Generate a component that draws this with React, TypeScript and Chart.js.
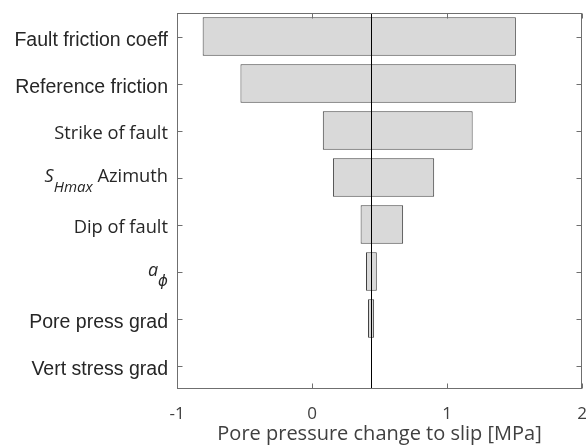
import React, { useEffect, useRef } from "react";
import { Chart, registerables } from "chart.js";

Chart.register(...registerables);

// ---- data ----
const CATEGORIES = [
  "Fault friction coeff",
  "Reference friction",
  "Strike of fault",
  "SHmax Azimuth",
  "Dip of fault",
  "aφ",
  "Pore press grad",
  "Vert stress grad",
];
const LOW_VALUES = [-0.81, -0.53, 0.08, 0.155, 0.36, 0.4, 0.415, 0.437];
const HIGH_VALUES = [1.51, 1.51, 1.19, 0.905, 0.675, 0.48, 0.46, 0.437];
const BASE_VALUE = 0.437;
const X_TICKS = [-1, 0, 1, 2];
const X_TITLE = "Pore pressure change to slip [MPa]";

// ---- label rendering styles (by category) ----
type Seg = { text: string; font: string; dy: number };
const ARIAL = "19.5px 'Liberation Sans', Arial, sans-serif";
const OPEN = "18.3px 'Open Sans', sans-serif";
const LABEL_SEGMENTS: Record<string, Seg[]> = {
  "Fault friction coeff": [{ text: "Fault friction coeff", font: ARIAL, dy: 9 }],
  "Reference friction": [{ text: "Reference friction", font: ARIAL, dy: 9 }],
  "Strike of fault": [{ text: "Strike of fault", font: OPEN, dy: 8 }],
  "SHmax Azimuth": [
    { text: "S", font: "italic 18px 'Open Sans', sans-serif", dy: 4 },
    { text: "Hmax", font: "italic 15px 'Open Sans', sans-serif", dy: 14 },
    { text: " Azimuth", font: OPEN, dy: 4 },
  ],
  "Dip of fault": [{ text: "Dip of fault", font: OPEN, dy: 8 }],
  "aφ": [
    { text: "a", font: "italic 18px 'Open Sans', sans-serif", dy: 4 },
    { text: "ϕ", font: "italic 15px 'DejaVu Sans', sans-serif", dy: 14 },
  ],
  "Pore press grad": [{ text: "Pore press grad", font: ARIAL, dy: 9 }],
  "Vert stress grad": [{ text: "Vert stress grad", font: ARIAL, dy: 9 }],
};

const FRAME_COLOR = "#6f6f6f";
const TEXT_COLOR = "#262626";

const framePlugin = {
  id: "framePlugin",
  afterDatasetsDraw(chart: any) {
    const { ctx, chartArea, scales } = chart;
    const x = scales.x;
    const px = Math.round(x.getPixelForValue(BASE_VALUE)) + 0.5;
    ctx.save();
    ctx.strokeStyle = "#000";
    ctx.lineWidth = 1;
    ctx.beginPath();
    ctx.moveTo(px, chartArea.top);
    ctx.lineTo(px, chartArea.bottom);
    ctx.stroke();
    ctx.restore();
  },
  afterDraw(chart: any) {
    const { ctx, chartArea, scales } = chart;
    const x = scales.x;
    const y = scales.y;
    const L = Math.round(chartArea.left) + 0.5;
    const R = Math.round(chartArea.right) - 0.5;
    const T = Math.round(chartArea.top) + 0.5;
    const B = Math.round(chartArea.bottom) - 0.5;
    ctx.save();
    ctx.strokeStyle = FRAME_COLOR;
    ctx.lineWidth = 1;
    ctx.strokeRect(L, T, R - L, B - T);
    const tl = 5;
    ctx.beginPath();
    X_TICKS.forEach((v) => {
      const p = Math.round(x.getPixelForValue(v)) + 0.5;
      ctx.moveTo(p, T);
      ctx.lineTo(p, T + tl);
      ctx.moveTo(p, B);
      ctx.lineTo(p, B - tl);
    });
    CATEGORIES.forEach((_, i) => {
      const p = Math.round(y.getPixelForValue(i)) + 0.5;
      ctx.moveTo(L, p);
      ctx.lineTo(L + tl, p);
      ctx.moveTo(R, p);
      ctx.lineTo(R - tl, p);
    });
    ctx.stroke();

    // y labels
    ctx.fillStyle = TEXT_COLOR;
    ctx.textBaseline = "alphabetic";
    ctx.textAlign = "left";
    const rightEdge = chartArea.left - 9;
    CATEGORIES.forEach((name, i) => {
      const segs = LABEL_SEGMENTS[name] || [{ text: name, font: ARIAL, dy: 9 }];
      let total = 0;
      const widths = segs.map((s) => {
        ctx.font = s.font;
        const w = ctx.measureText(s.text).width;
        total += w;
        return w;
      });
      let cx = rightEdge - total;
      const cy = y.getPixelForValue(i);
      segs.forEach((s, k) => {
        ctx.font = s.font;
        ctx.fillText(s.text, cx, cy + s.dy);
        cx += widths[k];
      });
    });
    ctx.restore();
  },
};

export default function App() {
  const ref = useRef<HTMLCanvasElement | null>(null);
  useEffect(() => {
    if (!ref.current) return;
    const chart = new Chart(ref.current, {
      type: "bar",
      data: {
        labels: CATEGORIES,
        datasets: [
          {
            data: CATEGORIES.map((_, i) => [LOW_VALUES[i], HIGH_VALUES[i]]) as any,
            backgroundColor: "#d9d9d9",
            borderColor: "#3f3f3f",
            borderWidth: 1,
            borderSkipped: false,
            barPercentage: 0.82,
            categoryPercentage: 1,
          },
        ],
      },
      options: {
        indexAxis: "y",
        responsive: false,
        animation: false,
        layout: { padding: { top: 13, right: 4, left: 0, bottom: 0 } },
        plugins: { legend: { display: false }, tooltip: { enabled: false } },
        scales: {
          y: {
            type: "category",
            ticks: { display: false },
            grid: { display: false, drawTicks: false },
            border: { display: false },
            afterFit: (s: any) => {
              s.width = 177;
              s.paddingTop = 0;
              s.paddingBottom = 0;
            },
          },
          x: {
            type: "linear",
            min: -1,
            max: 2,
            afterBuildTicks: (s: any) => {
              s.ticks = X_TICKS.map((v) => ({ value: v }));
            },
            ticks: {
              font: { family: "'Open Sans', sans-serif", size: 17 },
              color: "#404040",
              padding: 15,
              maxRotation: 0,
              callback: (v: any) => String(v),
            },
            grid: { display: false, drawTicks: false },
            border: { display: false },
            title: {
              display: true,
              text: X_TITLE,
              color: "#404040",
              font: { family: "'Open Sans', sans-serif", size: 20 },
              padding: { top: 0, bottom: 0 },
            },
            afterFit: (s: any) => {
              s.height = 57;
              s.paddingLeft = 0;
              s.paddingRight = 0;
            },
          },
        },
      },
      plugins: [framePlugin],
    });
    return () => chart.destroy();
  }, []);
  return (
    <div style={{ position: "fixed", left: 0, top: 0, width: 586, height: 446, background: "#fff" }}>
      <canvas ref={ref} width={586} height={446} />
    </div>
  );
}
